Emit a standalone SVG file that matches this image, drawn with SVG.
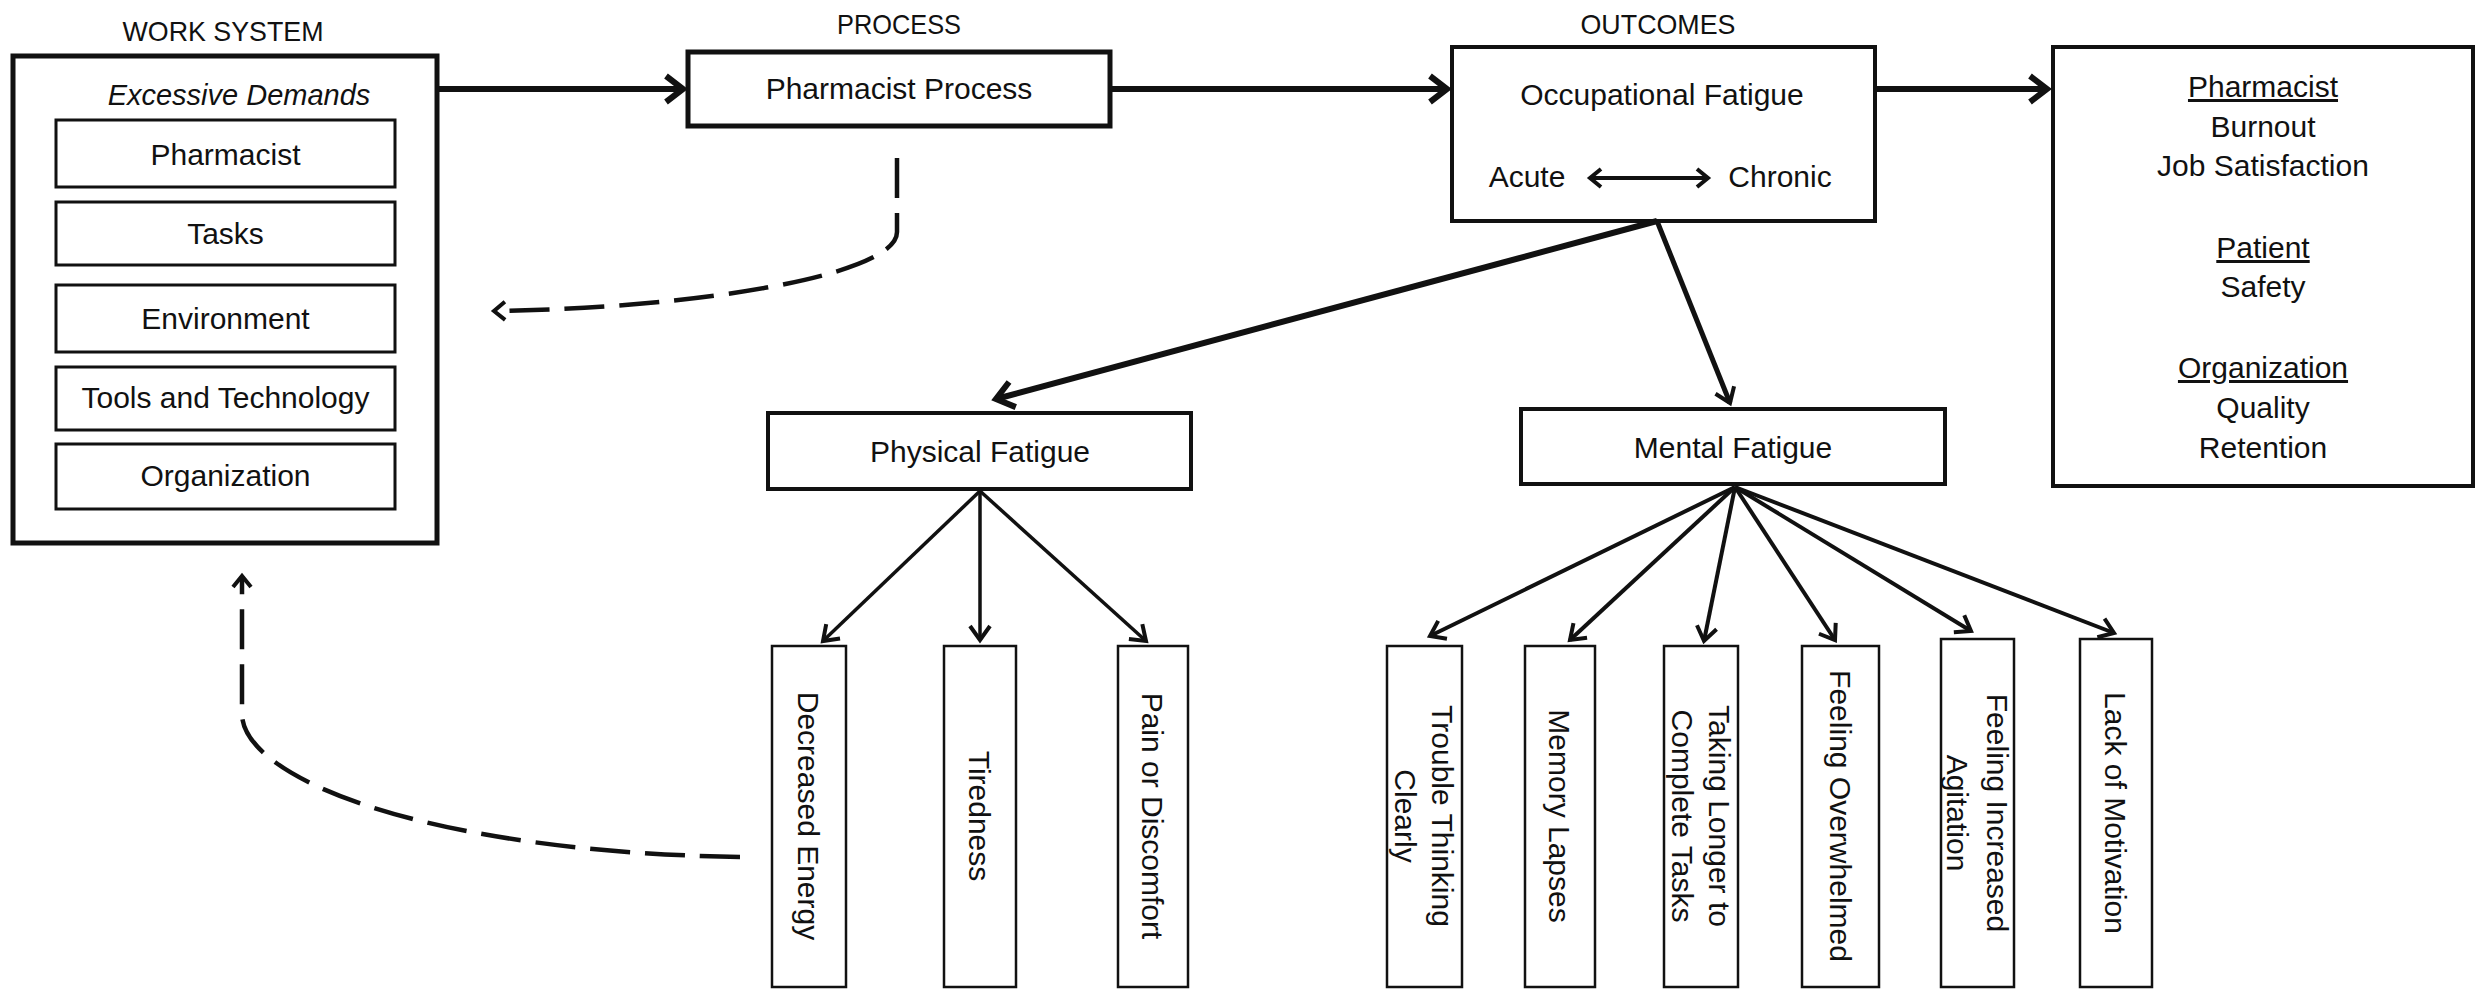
<svg xmlns="http://www.w3.org/2000/svg" width="2476" height="990" viewBox="0 0 2476 990">
<style>
text{font-family:"Liberation Sans",Arial,sans-serif;font-size:30px;fill:#111;text-anchor:middle}
.hd{font-size:28px}
.it{font-style:italic;font-size:29px}
.ul{text-decoration:underline}
.box{fill:#fff;stroke:#111}
.b5{stroke-width:5}
.b4{stroke-width:4}
.b3{stroke-width:3}
.b25{stroke-width:2.5}
.con{fill:none;stroke:#111}
.thick{stroke-width:6}
.mid{stroke-width:4}
.thin{stroke-width:3.5}
.dash{stroke-width:4.5;stroke-dasharray:40 15}
</style>
<defs>
<marker id="ahBig" markerUnits="userSpaceOnUse" viewBox="-30 -20 40 40" refX="0" refY="0" markerWidth="40" markerHeight="40" orient="auto" overflow="visible">
<path d="M-17,-13 L0,0 L-17,13" fill="none" stroke="#111" stroke-width="6"/>
</marker>
<marker id="ahMed" markerUnits="userSpaceOnUse" viewBox="-30 -20 40 40" refX="0" refY="0" markerWidth="40" markerHeight="40" orient="auto" overflow="visible">
<path d="M-14,-10 L0,0 L-14,10" fill="none" stroke="#111" stroke-width="4"/>
</marker>
<marker id="ahSm" markerUnits="userSpaceOnUse" viewBox="-30 -20 40 40" refX="0" refY="0" markerWidth="40" markerHeight="40" orient="auto-start-reverse" overflow="visible">
<path d="M-11,-9 L0,0 L-11,9" fill="none" stroke="#111" stroke-width="4"/>
</marker>
</defs>
<rect width="2476" height="990" fill="#fff"/>

<g id="headings">
<text class="hd" x="223" y="41" textLength="201" lengthAdjust="spacingAndGlyphs">WORK SYSTEM</text>
<text class="hd" x="899" y="34" textLength="124" lengthAdjust="spacingAndGlyphs">PROCESS</text>
<text class="hd" x="1658" y="34" textLength="155" lengthAdjust="spacingAndGlyphs">OUTCOMES</text>
</g>

<g id="work-system">
<rect class="box b5" x="13" y="56" width="424" height="487"/>
<text class="it" x="239" y="105">Excessive Demands</text>
<g id="ws-pharmacist"><rect class="box b3" x="56" y="120" width="339" height="67"/><text x="225.5" y="165">Pharmacist</text></g>
<g id="ws-tasks"><rect class="box b3" x="56" y="202" width="339" height="63"/><text x="225.5" y="244">Tasks</text></g>
<g id="ws-environment"><rect class="box b3" x="56" y="285" width="339" height="67"/><text x="225.5" y="329">Environment</text></g>
<g id="ws-tools"><rect class="box b3" x="56" y="367" width="339" height="63"/><text x="225.5" y="408">Tools and Technology</text></g>
<g id="ws-organization"><rect class="box b3" x="56" y="444" width="339" height="65"/><text x="225.5" y="486">Organization</text></g>
</g>

<g id="pharmacist-process">
<rect class="box b5" x="688" y="52" width="422" height="74"/>
<text x="899" y="99">Pharmacist Process</text>
</g>

<g id="occupational-fatigue">
<rect class="box b4" x="1452" y="47" width="423" height="174"/>
<text x="1662" y="105">Occupational Fatigue</text>
<text x="1527" y="187">Acute</text>
<text x="1780" y="187">Chronic</text>
</g>

<g id="outcomes">
<rect class="box b4" x="2053" y="47" width="420" height="439"/>
<text class="ul" x="2263" y="97">Pharmacist</text>
<text x="2263" y="137">Burnout</text>
<text x="2263" y="176">Job Satisfaction</text>
<text class="ul" x="2263" y="258">Patient</text>
<text x="2263" y="297">Safety</text>
<text class="ul" x="2263" y="378">Organization</text>
<text x="2263" y="418">Quality</text>
<text x="2263" y="458">Retention</text>
</g>

<g id="physical-fatigue">
<rect class="box b4" x="768" y="413" width="423" height="76"/>
<text x="980" y="462">Physical Fatigue</text>
</g>

<g id="mental-fatigue">
<rect class="box b4" x="1521" y="409" width="424" height="75"/>
<text x="1733" y="458">Mental Fatigue</text>
</g>

<g id="decreased-energy">
<rect class="box b25" x="772" y="646" width="74" height="341"/>
<text transform="translate(809 816) rotate(90)" x="0" y="11">Decreased Energy</text>
</g>
<g id="tiredness">
<rect class="box b25" x="944" y="646" width="72" height="341"/>
<text transform="translate(980 816) rotate(90)" x="0" y="11">Tiredness</text>
</g>
<g id="pain">
<rect class="box b25" x="1118" y="646" width="70" height="341"/>
<text transform="translate(1153 816) rotate(90)" x="0" y="11">Pain or Discomfort</text>
</g>

<g id="trouble-thinking">
<rect class="box b25" x="1387" y="646" width="75" height="341"/>
<text transform="translate(1424.5 816) rotate(90)"><tspan x="0" y="-7">Trouble Thinking</tspan><tspan x="0" y="30">Clearly</tspan></text>
</g>
<g id="memory-lapses">
<rect class="box b25" x="1525" y="646" width="70" height="341"/>
<text transform="translate(1560 816) rotate(90)" x="0" y="11">Memory Lapses</text>
</g>
<g id="taking-longer">
<rect class="box b25" x="1664" y="646" width="74" height="341"/>
<text transform="translate(1701 816) rotate(90)"><tspan x="0" y="-8">Taking Longer to</tspan><tspan x="0" y="29">Complete Tasks</tspan></text>
</g>
<g id="feeling-overwhelmed">
<rect class="box b25" x="1802" y="646" width="77" height="341"/>
<text transform="translate(1840.5 816) rotate(90)" x="0" y="11">Feeling Overwhelmed</text>
</g>
<g id="feeling-agitation">
<rect class="box b25" x="1941" y="639" width="73" height="348"/>
<text transform="translate(1977.5 813) rotate(90)"><tspan x="0" y="-9">Feeling Increased</tspan><tspan x="0" y="31">Agitation</tspan></text>
</g>
<g id="lack-motivation">
<rect class="box b25" x="2080" y="639" width="72" height="348"/>
<text transform="translate(2116 813) rotate(90)" x="0" y="11">Lack of Motivation</text>
</g>

<g id="connectors">
<path class="con thick" d="M437 89 H683" marker-end="url(#ahBig)"/>
<path class="con thick" d="M1110 89 H1447" marker-end="url(#ahBig)"/>
<path class="con thick" d="M1875 89 H2047" marker-end="url(#ahBig)"/>
<path class="con mid" d="M1590 178 H1708" marker-start="url(#ahSm)" marker-end="url(#ahSm)"/>
<path class="con thick" d="M1657 221 L996 399" marker-end="url(#ahBig)"/>
<path class="con" stroke-width="5" d="M1657 221 L1730 403" marker-end="url(#ahMed)"/>
<path class="con thin" d="M980 491 L823 641" marker-end="url(#ahMed)"/>
<path class="con thin" d="M980 491 L980 640" marker-end="url(#ahMed)"/>
<path class="con thin" d="M980 491 L1146 641" marker-end="url(#ahMed)"/>
<path class="con mid" d="M1735 487 L1430 636" marker-end="url(#ahMed)"/>
<path class="con mid" d="M1735 487 L1570 640" marker-end="url(#ahMed)"/>
<path class="con mid" d="M1735 487 L1704 641" marker-end="url(#ahMed)"/>
<path class="con mid" d="M1735 487 L1835 640" marker-end="url(#ahMed)"/>
<path class="con mid" d="M1735 487 L1971 631" marker-end="url(#ahMed)"/>
<path class="con mid" d="M1735 487 L2114 633" marker-end="url(#ahMed)"/>
<path class="con dash" d="M897 158 V232 C897 275 700 308 494 311" marker-end="url(#ahSm)"/>
<path class="con dash" d="M740 857 C430 852 245 780 242 715 L242 576" marker-end="url(#ahSm)"/>
</g>
</svg>
